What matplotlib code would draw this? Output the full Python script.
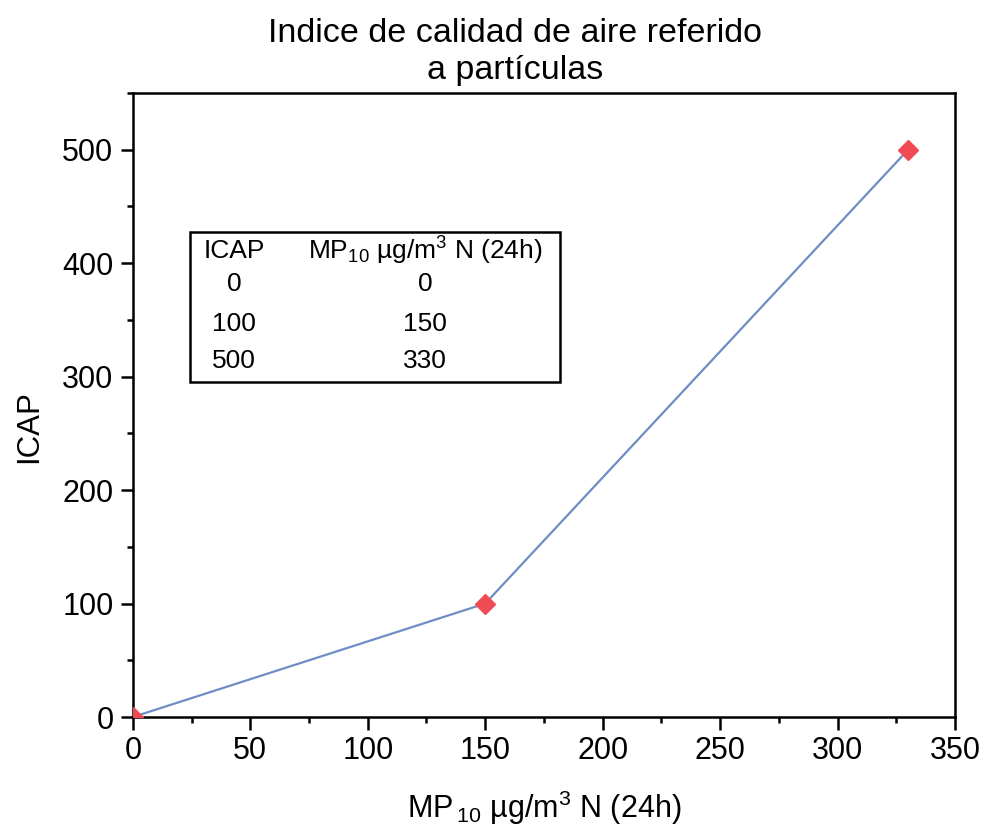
import matplotlib as mpl
mpl.use("Agg")
import matplotlib.pyplot as plt
from matplotlib.patches import Rectangle
from matplotlib.ticker import MultipleLocator

# data
mp10 = [0, 150, 330]
icap = [0, 100, 500]
table_icap = ["0", "100", "500"]
table_mp10 = ["0", "150", "330"]

plt.rcParams['font.family'] = ['Liberation Sans', 'DejaVu Sans']
plt.rcParams['mathtext.default'] = 'regular'

fig = plt.figure(figsize=(9.84, 8.35), dpi=100)
ax = fig.add_axes([0.135, 0.1413, 0.8356, 0.7473])

ax.plot(mp10, icap, color='#6f8cc4', lw=1.6, zorder=2)
ax.plot(mp10, icap, ls='none', marker='D', ms=10, color='#f04a55',
        mec='#f04a55', zorder=3)

ax.set_xlim(0, 350)
ax.set_ylim(0, 550)
ax.xaxis.set_major_locator(MultipleLocator(50))
ax.xaxis.set_minor_locator(MultipleLocator(25))
ax.yaxis.set_major_locator(MultipleLocator(100))
ax.yaxis.set_minor_locator(MultipleLocator(50))
ax.tick_params(which='major', direction='out', length=9, width=1.8,
               labelsize=22, pad=5)
ax.tick_params(which='minor', direction='out', length=4.5, width=1.8)
for s in ax.spines.values():
    s.set_linewidth(1.8)

ax.set_title("Indice de calidad de aire referido\na partículas",
             fontsize=24.5, linespacing=1.25, pad=10, x=0.465)
ax.set_xlabel("MP$_{\\,10}$ µg/m$^3$ N (24h)", fontsize=22, labelpad=16)
ax.set_ylabel("ICAP", fontsize=22.5)
ax.yaxis.set_label_coords(-0.108, 0.465)

# inset table
ax.add_patch(Rectangle((24.3, 295), 157.5, 132.6, fill=False, lw=1.8,
                       ec='black', zorder=4))
ax.text(43, 410.8, "ICAP", fontsize=19, ha='center', va='center')
ax.text(124.3, 410.8, "MP$_{10}$ µg/m$^3$ N (24h)", fontsize=19,
        ha='center', va='center')
rows_y = [381.6, 346.3, 313.6]
for yy, a, b in zip(rows_y, table_icap, table_mp10):
    ax.text(43, yy, a, fontsize=19, ha='center', va='center')
    ax.text(124.3, yy, b, fontsize=19, ha='center', va='center')

fig.savefig("out.png", dpi=100)
